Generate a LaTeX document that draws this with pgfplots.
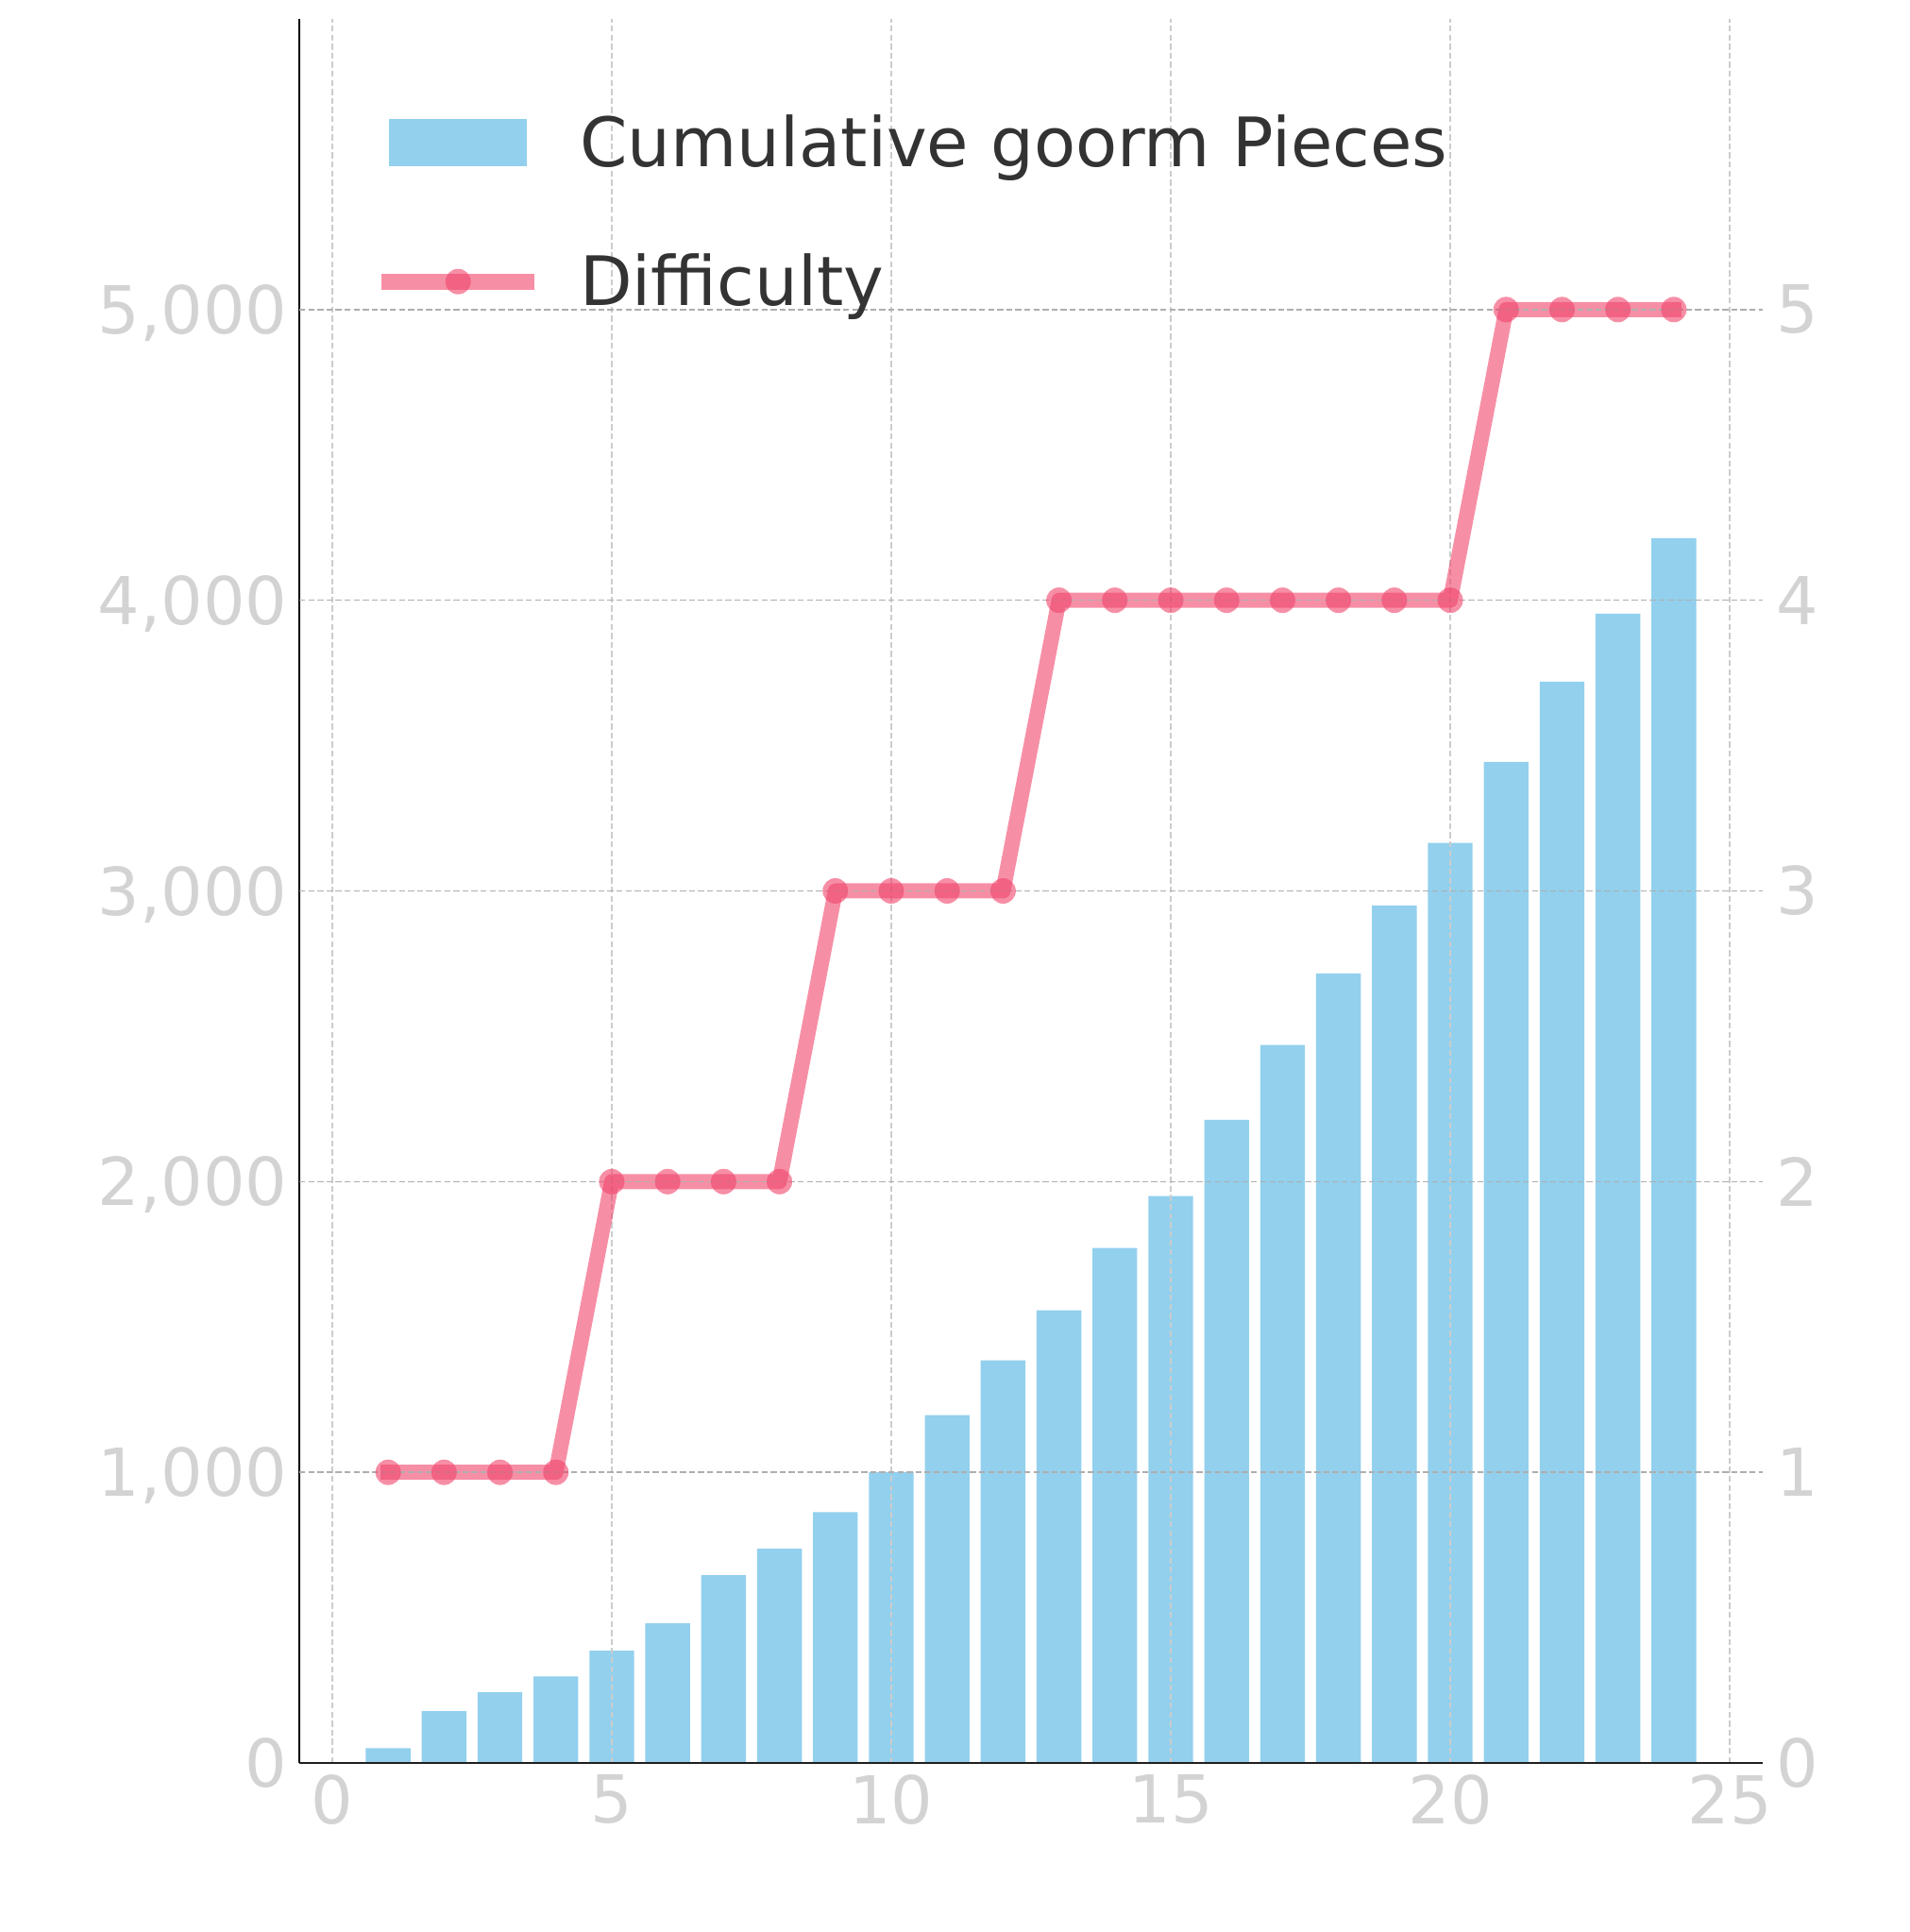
\documentclass[border=0pt]{standalone}
\usepackage{fontspec}
\setmainfont{DejaVu Sans}
\usepackage{pgfplots}
\usepackage{pgfplotstable}
\pgfplotsset{compat=1.18}

\definecolor{barcol}{RGB}{146,208,238}
\definecolor{pinkcol}{RGB}{240,68,107}
\definecolor{gridv}{RGB}{204,204,204}
\definecolor{gridh}{RGB}{174,174,174}
\definecolor{ticklab}{RGB}{211,211,211}
\definecolor{legtext}{RGB}{51,51,51}

\pgfplotstableread{
x pieces diff
1 51 1
2 178 1
3 243 1
4 298 1
5 386 2
6 480 2
7 646 2
8 737 2
9 863 3
10 1000 3
11 1197 3
12 1385 3
13 1557 4
14 1772 4
15 1950 4
16 2213 4
17 2470 4
18 2716 4
19 2950 4
20 3165 4
21 3444 5
22 3720 5
23 3954 5
24 4214 5
}\datatable

\begin{document}
\begin{tikzpicture}
\path[use as bounding box] (-79.25pt,-44.75pt) rectangle (426.5pt,466.75pt);
\begin{axis}[
  at={(0,0)}, anchor=south west,
  scale only axis, width=387.5pt, height=461.75pt,
  xmin=-0.59, xmax=25.59, ymin=0, ymax=6000,
  axis x line*=bottom, axis y line*=left,
  x axis line style={line width=0.67pt, color=black!88},
  y axis line style={line width=0.67pt, color=black},
  xtick={0,5,...,25}, ytick={0,1000,...,5000},
  major tick length=0pt,
  xmajorgrids, ymajorgrids,
  x grid style={gridv, line width=0.4pt, dash pattern=on 1.6pt off 0.8pt},
  y grid style={gridh, line width=0.4pt, dash pattern=on 1.6pt off 0.8pt},
  axis on top,
  tick label style={font=\fontsize{17.5}{21}\selectfont, text=ticklab, inner sep=0pt},
  /pgf/number format/assume math mode=true,
  /pgf/number format/1000 sep={,},
  scaled y ticks=false,
  yticklabel style={anchor=base east, xshift=-3pt, yshift=-6.38pt},
  xticklabel style={anchor=north, yshift=-3pt},
]
\addplot[ybar, bar width=0.8, bar shift=0pt, fill=barcol, draw=none] table[x=x,y=pieces]{\datatable};
\end{axis}
\begin{axis}[
  at={(0,0)}, anchor=south west,
  scale only axis, width=387.5pt, height=461.75pt,
  xmin=-0.59, xmax=25.59, ymin=0, ymax=6,
  axis x line*=bottom, xtick=\empty,
  x axis line style={line width=0.67pt, color=black!88},
  axis y line*=right,
  y axis line style={draw=none},
  ytick={0,1,...,5},
  major tick length=0pt,
  ymajorgrids,
  y grid style={gridh, line width=0.4pt, dash pattern=on 1.6pt off 0.8pt},
  axis on top,
  tick label style={font=\fontsize{17.5}{21}\selectfont, text=ticklab, inner sep=0pt},
  /pgf/number format/assume math mode=true,
  yticklabel style={anchor=west, xshift=3.5pt},
  legend style={draw=none, fill=none, at={(0,1)}, anchor=north west,
    xshift=21.8pt, yshift=-25.25pt, inner sep=0pt, outer sep=0pt,
    row sep=18.6pt, column sep=12pt,
    font=\fontsize{18.05}{22}\selectfont, text=legtext,
    nodes={inner sep=0pt, text height=13.8pt, text depth=4.4pt}},
  legend cell align=left,
]
\addlegendimage{legend image code/.code={%
  \pgfpathrectangle{\pgfpoint{0pt}{-6.25pt}}{\pgfpoint{40.5pt}{12.5pt}}\pgfusepath{use as bounding box}%
  \pgfsetfillcolor{barcol}\pgfsetfillopacity{1}%
  \pgfpathrectangle{\pgfpoint{2pt}{-4.6pt}}{\pgfpoint{36.5pt}{12.5pt}}\pgfusepath{fill}}}
\addlegendentry{Cumulative goorm Pieces}
\addplot[pinkcol, line width=4pt, opacity=0.6, line cap=rect, line join=round,
  mark=*, mark size=3.375pt,
  mark options={line width=0pt, draw opacity=0, fill=pinkcol, fill opacity=0.6},
  legend image code/.code={%
  \pgfpathrectangle{\pgfpoint{0pt}{-6.25pt}}{\pgfpoint{40.5pt}{12.5pt}}\pgfusepath{use as bounding box}%
  \pgfsetstrokecolor{pinkcol}\pgfsetlinewidth{4.25pt}\pgfsetstrokeopacity{0.6}\pgfsetbuttcap
  \pgfpathmoveto{\pgfpoint{0pt}{1.6pt}}\pgfpathlineto{\pgfpoint{40.5pt}{1.6pt}}\pgfusepath{stroke}%
  \pgfsetfillcolor{pinkcol}\pgfsetfillopacity{0.6}%
  \pgfpathcircle{\pgfpoint{20.25pt}{1.6pt}}{3.375pt}\pgfusepath{fill}}
  ] table[x=x,y=diff]{\datatable};
\addlegendentry{Difficulty}
\end{axis}
\end{tikzpicture}
\end{document}
